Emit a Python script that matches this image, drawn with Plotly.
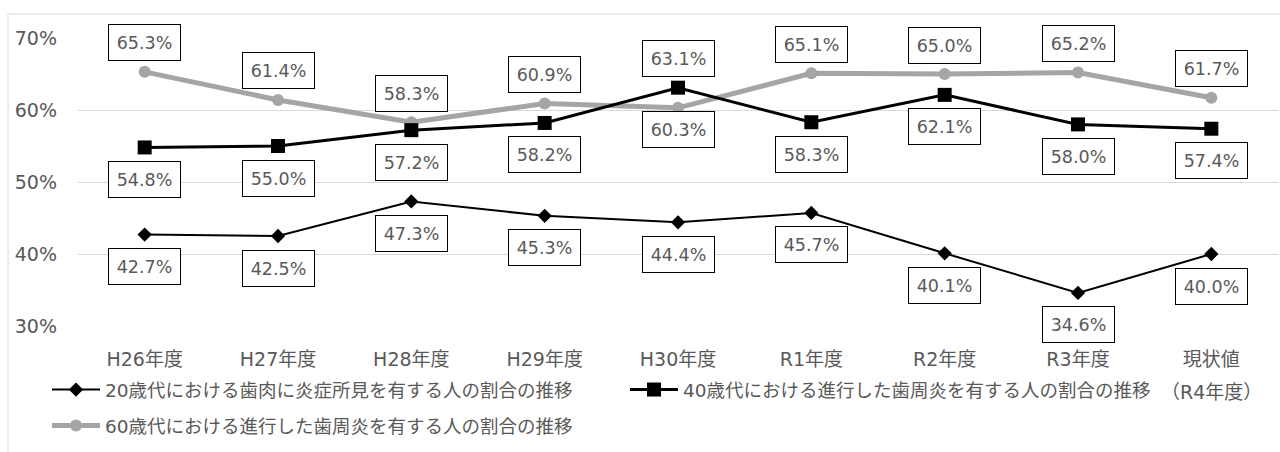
import plotly.graph_objects as go

# ---- data -------------------------------------------------------------
categories = ["H26年度", "H27年度", "H28年度", "H29年度", "H30年度",
              "R1年度", "R2年度", "R3年度", "現状値\n（R4年度）"]

gingivitis_20s = [42.7, 42.5, 47.3, 45.3, 44.4, 45.7, 40.1, 34.6, 40.0]
periodontitis_40s = [54.8, 55.0, 57.2, 58.2, 63.1, 58.3, 62.1, 58.0, 57.4]
periodontitis_60s = [65.3, 61.4, 58.3, 60.9, 60.3, 65.1, 65.0, 65.2, 61.7]

series_names = [
    "20歳代における歯肉に炎症所見を有する人の割合の推移",
    "40歳代における進行した歯周炎を有する人の割合の推移",
    "60歳代における進行した歯周炎を有する人の割合の推移",
]
y_ticks = [30, 40, 50, 60, 70]

# data-label placement per point ("above" / "below" / "below_near")
place_20s = ["below"] * 9
place_40s = ["below", "below", "below", "below", "above",
             "below", "below", "below", "below"]
place_60s = ["above", "above", "above", "above", "below_near",
             "above", "above", "above", "above"]

# ---- layout geometry (pixels) -----------------------------------------
W, H = 1280, 452
M_L, M_R, M_T, M_B = 78, 2, 38, 126
PLOT_W = W - M_L - M_R
PLOT_H = H - M_T - M_B


def px_x(px):
    return (px - M_L) / PLOT_W


def px_y(py):
    return (H - M_B - py) / PLOT_H


FONT = "DejaVu Sans, Noto Sans CJK JP, sans-serif"
TXT = "#595959"
GRID = "#D9D9D9"

x_main = [c.split("\n")[0] for c in categories]

fig = go.Figure()

fig.add_trace(go.Scatter(
    x=x_main, y=periodontitis_60s, name=series_names[2], mode="lines+markers",
    line=dict(color="#A5A5A5", width=5),
    marker=dict(symbol="circle", size=12, color="#A5A5A5"),
    cliponaxis=False, legend="legend2",
))
fig.add_trace(go.Scatter(
    x=x_main, y=periodontitis_40s, name=series_names[1], mode="lines+markers",
    line=dict(color="#000000", width=3),
    marker=dict(symbol="square", size=14, color="#000000"),
    cliponaxis=False, legend="legend", legendrank=2,
))
fig.add_trace(go.Scatter(
    x=x_main, y=gingivitis_20s, name=series_names[0], mode="lines+markers",
    line=dict(color="#000000", width=2),
    marker=dict(symbol="diamond", size=11, color="#000000"),
    cliponaxis=False, legend="legend", legendrank=1,
))

SHIFT = {"above": 29, "below": -32, "below_near": -22}
annotations = []
for values, places in ((periodontitis_60s, place_60s),
                       (periodontitis_40s, place_40s),
                       (gingivitis_20s, place_20s)):
    for cat, v, p in zip(x_main, values, places):
        annotations.append(dict(
            x=cat, y=v, xref="x", yref="y", text=f"{v:.1f}%",
            showarrow=False, yshift=SHIFT[p],
            font=dict(family=FONT, size=17.5, color=TXT),
            bgcolor="#FFFFFF", bordercolor="#000000", borderwidth=1,
            borderpad=6, width=59, height=23,
        ))

# second line of the last category label
for cat_full, cat in zip(categories, x_main):
    if "\n" in cat_full:
        annotations.append(dict(
            x=cat, y=px_y(392), xref="x", yref="paper",
            text=cat_full.split("\n")[1], showarrow=False,
            font=dict(family=FONT, size=19, color=TXT),
            xanchor="center", yanchor="middle",
        ))

LEGEND_FONT = dict(family=FONT, size=18.5, color=TXT)

fig.update_layout(
    width=W, height=H, autosize=False,
    margin=dict(l=M_L, r=M_R, t=M_T, b=M_B),
    paper_bgcolor="#FFFFFF", plot_bgcolor="#FFFFFF",
    font=dict(family=FONT, color=TXT),
    annotations=annotations,
    shapes=[dict(type="rect", xref="paper", yref="paper",
                 x0=px_x(8), x1=px_x(1300), y0=px_y(470), y1=px_y(14),
                 line=dict(color=GRID, width=1), layer="below")],
    xaxis=dict(type="category", range=[-0.5, len(x_main) - 0.5],
               showgrid=False, zeroline=False, showline=False, ticks="",
               tickfont=dict(family=FONT, size=19, color=TXT),
               ticklabelstandoff=20),
    yaxis=dict(range=[30, 70], tickvals=y_ticks,
               ticktext=[f"{v}%" for v in y_ticks],
               showgrid=True, gridcolor=GRID, gridwidth=1,
               zeroline=False, showline=False, ticks="",
               tickfont=dict(family=FONT, size=19, color=TXT),
               ticklabelstandoff=20),
    legend=dict(orientation="h", x=px_x(47), y=px_y(390),
                xanchor="left", yanchor="middle", entrywidth=515,
                itemwidth=48,
                font=LEGEND_FONT,
                bgcolor="rgba(0,0,0,0)", traceorder="normal"),
    legend2=dict(orientation="h", x=px_x(47), y=px_y(426),
                 xanchor="left", yanchor="middle", itemwidth=48,
                 font=LEGEND_FONT,
                 bgcolor="rgba(0,0,0,0)"),
)

fig.write_html("out.html")
